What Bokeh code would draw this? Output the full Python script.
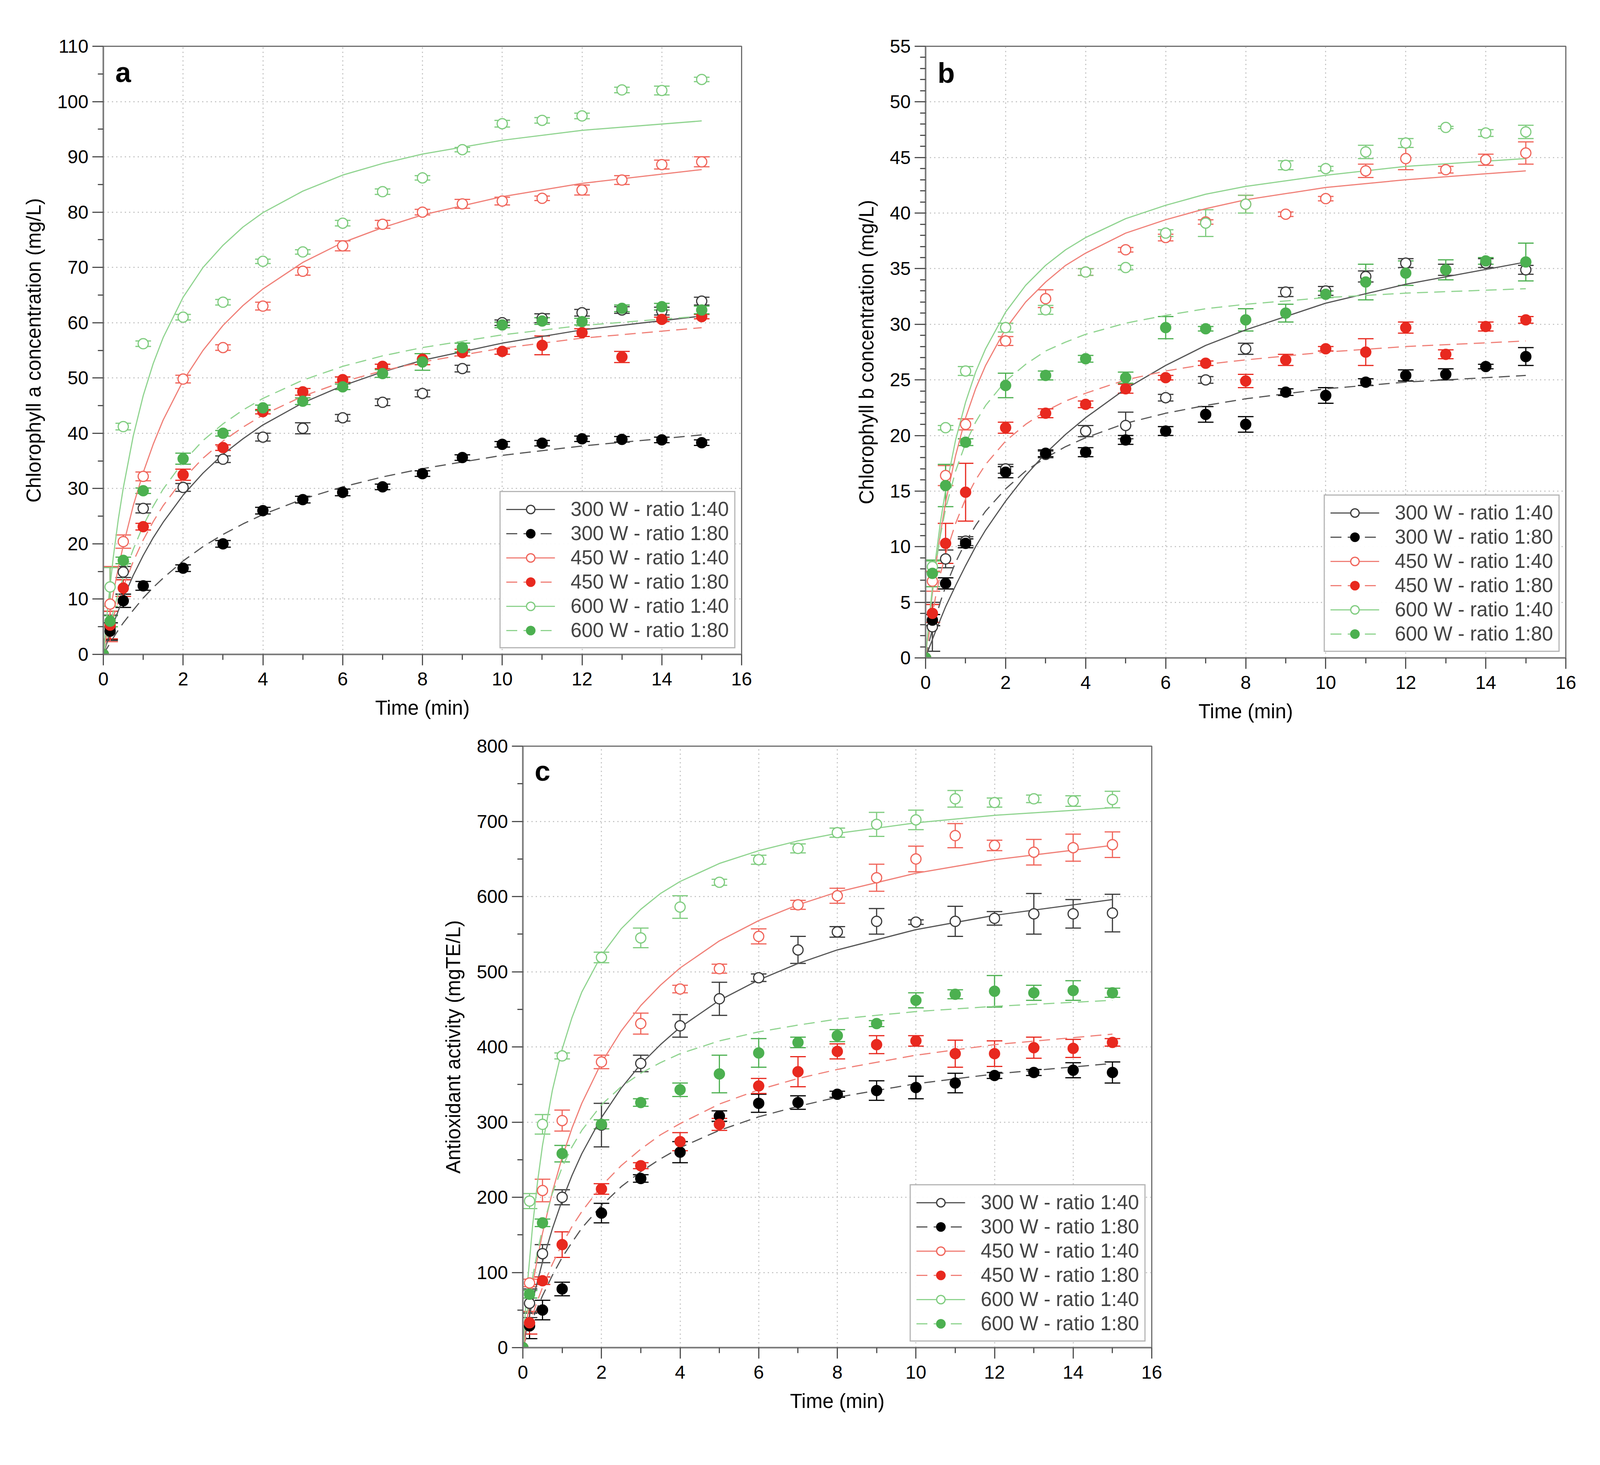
from bokeh.plotting import figure
from bokeh.models import (ColumnDataSource, Whisker, TeeHead, Legend, LegendItem,
                          Label, SingleIntervalTicker, Range1d, Spacer)
from bokeh.layouts import column, row
from bokeh.embed import file_html
from bokeh.resources import INLINE

# sampling times (min) of the measured points and of the fitted curves
t_pts = [0, 0.17, 0.5, 1, 2, 3, 4, 5, 6, 7, 8, 9, 10, 11, 12, 13, 14, 15]
t_fit = [0, 0.1, 0.25, 0.375, 0.5, 0.75, 1, 1.25, 1.5, 2, 2.5, 3, 3.5, 4, 5, 6, 7, 8, 10, 12, 15]

series_labels = ["300 W - ratio 1:40", "300 W - ratio 1:80",
                 "450 W - ratio 1:40", "450 W - ratio 1:80",
                 "600 W - ratio 1:40", "600 W - ratio 1:80"]

# ---- panel a : chlorophyll a (mg/L)
chla_300_40 = [0, 4.8, 14.9, 26.4, 30.2, 35.3, 39.3, 40.9, 42.8, 45.6, 47.2, 51.7, 60.0, 60.8, 61.8, 62.3, 62.1, 63.9]
chla_300_40_err = [0, 2.3, 1.0, 0.8, 0.7, 0.6, 0.7, 1.0, 0.6, 0.6, 0.6, 0.6, 0.5, 0.8, 0.6, 0.6, 0.7, 0.7]
chla_300_80 = [0, 4.2, 9.7, 12.4, 15.6, 20.0, 26.0, 28.0, 29.3, 30.3, 32.7, 35.6, 38.0, 38.2, 39.0, 38.9, 38.8, 38.3]
chla_300_80_err = [0, 1.5, 1.2, 0.8, 0.6, 0.6, 0.6, 0.6, 0.6, 0.5, 0.5, 0.5, 0.5, 0.5, 0.5, 0.5, 0.5, 0.5]
chla_450_40 = [0, 9.1, 20.4, 32.2, 49.8, 55.5, 63.0, 69.3, 73.9, 77.8, 80.0, 81.5, 82.0, 82.5, 84.0, 85.8, 88.6, 89.1]
chla_450_40_err = [0, 6.8, 1.2, 0.8, 0.7, 0.5, 0.7, 0.7, 0.9, 0.7, 0.5, 0.8, 0.7, 0.4, 0.9, 0.8, 0.8, 0.9]
chla_450_80 = [0, 5.3, 12.0, 23.1, 32.5, 37.4, 43.9, 47.5, 49.7, 52.1, 53.4, 54.6, 54.8, 55.9, 58.2, 53.8, 60.6, 61.1]
chla_450_80_err = [0, 2.5, 1.5, 0.6, 1.0, 0.5, 0.4, 0.6, 0.5, 0.4, 1.0, 0.6, 0.5, 1.7, 0.7, 1.0, 0.4, 0.4]
chla_600_40 = [0, 12.2, 41.2, 56.2, 61.0, 63.7, 71.1, 72.8, 78.0, 83.7, 86.2, 91.3, 96.0, 96.6, 97.4, 102.1, 102.0, 104.0]
chla_600_40_err = [0, 3.5, 0.6, 0.5, 0.5, 0.5, 0.4, 0.4, 0.5, 0.5, 0.4, 0.4, 0.6, 0.5, 0.5, 0.5, 0.8, 0.4]
chla_600_80 = [0, 6.0, 17.0, 29.6, 35.4, 40.0, 44.6, 45.8, 48.4, 50.8, 52.9, 55.5, 59.6, 60.3, 60.2, 62.6, 62.9, 62.3]
chla_600_80_err = [0, 1.0, 0.6, 0.5, 1.0, 0.5, 0.5, 0.6, 0.5, 0.7, 1.5, 0.8, 0.5, 0.6, 0.6, 0.6, 0.6, 0.7]

chla_300_40_fit = [0, 2.3, 5.5, 7.9, 10.2, 14.3, 17.9, 21.1, 23.9, 28.8, 32.8, 36.2, 39.0, 41.5, 45.5, 48.6, 51.1, 53.2, 56.3, 58.7, 61.2]
chla_300_80_fit = [0, 1.2, 3.0, 4.4, 5.7, 8.0, 10.2, 12.1, 13.8, 16.9, 19.5, 21.7, 23.6, 25.3, 28.1, 30.3, 32.1, 33.6, 36.0, 37.7, 39.7]
chla_450_40_fit = [0, 4.7, 11.0, 15.6, 19.7, 26.9, 32.9, 38.0, 42.4, 49.5, 55.0, 59.5, 63.1, 66.1, 70.9, 74.5, 77.2, 79.5, 82.8, 85.2, 87.7]
chla_450_80_fit = [0, 2.8, 6.7, 9.6, 12.2, 16.8, 20.7, 24.0, 26.9, 31.7, 35.5, 38.6, 41.1, 43.3, 46.7, 49.3, 51.3, 52.9, 55.4, 57.2, 59.1]
chla_600_40_fit = [0, 7.8, 17.6, 24.4, 30.1, 39.5, 46.8, 52.6, 57.3, 64.6, 70.0, 74.0, 77.3, 79.9, 83.8, 86.7, 88.8, 90.5, 93.0, 94.8, 96.5]
chla_600_80_fit = [0, 3.3, 7.8, 11.0, 14.0, 19.0, 23.3, 26.8, 29.9, 34.8, 38.7, 41.7, 44.2, 46.3, 49.6, 52.1, 54.0, 55.5, 57.8, 59.5, 61.2]

# ---- panel b : chlorophyll b (mg/L)
chlb_300_40 = [0, 2.8, 8.9, 10.5, 17.0, 18.3, 20.4, 20.9, 23.4, 25.0, 27.8, 32.9, 33.0, 34.3, 35.5, 34.9, 35.5, 34.9]
chlb_300_40_err = [0, 2.2, 0.8, 0.4, 0.4, 0.3, 0.5, 1.2, 0.3, 0.3, 0.5, 0.4, 0.4, 0.5, 0.4, 0.5, 0.4, 0.4]
chlb_300_80 = [0, 3.4, 6.7, 10.3, 16.7, 18.4, 18.5, 19.6, 20.4, 21.9, 21.0, 23.9, 23.6, 24.8, 25.4, 25.5, 26.2, 27.1]
chlb_300_80_err = [0, 0.5, 0.5, 0.4, 0.5, 0.3, 0.4, 0.4, 0.4, 0.7, 0.7, 0.3, 0.7, 0.3, 0.5, 0.5, 0.2, 0.8]
chlb_450_40 = [0, 6.9, 16.4, 21.0, 28.5, 32.3, 34.7, 36.7, 37.8, 39.2, 40.8, 39.9, 41.3, 43.8, 44.9, 43.9, 44.8, 45.4]
chlb_450_40_err = [0, 0.9, 0.9, 0.5, 0.4, 0.8, 0.3, 0.2, 0.3, 0.2, 0.8, 0.2, 0.2, 0.6, 1.0, 0.3, 0.5, 1.0]
chlb_450_80 = [0, 4.0, 10.3, 14.9, 20.7, 22.0, 22.8, 24.2, 25.2, 26.5, 24.9, 26.8, 27.8, 27.5, 29.7, 27.3, 29.8, 30.4]
chlb_450_80_err = [0, 0.8, 1.8, 2.6, 0.5, 0.4, 0.3, 0.4, 0.2, 0.2, 0.6, 0.5, 0.2, 1.2, 0.5, 0.4, 0.4, 0.3]
chlb_600_40 = [0, 8.2, 20.7, 25.8, 29.7, 31.3, 34.7, 35.1, 38.2, 39.1, 40.8, 44.3, 44.0, 45.5, 46.3, 47.7, 47.2, 47.3]
chlb_600_40_err = [0, 0.5, 0.2, 0.4, 0.4, 0.4, 0.3, 0.2, 0.3, 1.2, 0.8, 0.4, 0.2, 0.6, 0.4, 0.1, 0.3, 0.6]
chlb_600_80 = [0, 7.6, 15.5, 19.4, 24.5, 25.4, 26.9, 25.2, 29.7, 29.6, 30.4, 31.0, 32.7, 33.8, 34.6, 34.9, 35.7, 35.6]
chlb_600_80_err = [0, 1.2, 1.9, 0.3, 1.1, 0.4, 0.3, 0.5, 1.0, 0.2, 1.0, 0.8, 0.3, 1.6, 1.1, 0.9, 0.3, 1.7]

chlb_300_40_fit = [0, 1.0, 2.4, 3.5, 4.6, 6.5, 8.3, 10.0, 11.5, 14.1, 16.4, 18.4, 20.1, 21.6, 24.2, 26.3, 28.1, 29.5, 31.9, 33.6, 35.6]
chlb_300_80_fit = [0, 1.6, 3.6, 5.1, 6.4, 8.6, 10.4, 11.9, 13.2, 15.2, 16.8, 18.0, 19.0, 19.8, 21.1, 22.0, 22.7, 23.3, 24.2, 24.8, 25.4]
chlb_450_40_fit = [0, 3.7, 8.2, 11.3, 14.0, 18.2, 21.6, 24.2, 26.3, 29.6, 32.0, 33.8, 35.3, 36.4, 38.2, 39.4, 40.4, 41.2, 42.3, 43.0, 43.8]
chlb_450_80_fit = [0, 2.5, 5.5, 7.6, 9.3, 12.1, 14.3, 16.0, 17.4, 19.5, 21.0, 22.2, 23.1, 23.8, 25.0, 25.8, 26.4, 26.8, 27.5, 28.0, 28.5]
chlb_600_40_fit = [0, 4.0, 8.9, 12.3, 15.1, 19.6, 23.0, 25.7, 27.8, 31.1, 33.5, 35.3, 36.7, 37.8, 39.5, 40.7, 41.7, 42.4, 43.4, 44.2, 44.9]
chlb_600_80_fit = [0, 3.8, 8.3, 11.1, 13.4, 16.8, 19.3, 21.2, 22.7, 24.9, 26.4, 27.6, 28.4, 29.1, 30.1, 30.8, 31.4, 31.8, 32.4, 32.8, 33.2]

# ---- panel c : antioxidant activity (mgTE/L)
aox_300_40 = [0, 59, 125, 200, 296, 378, 428, 464, 492, 529, 553, 567, 566, 567, 571, 577, 577, 578]
aox_300_40_err = [0, 19, 12, 10, 29, 11, 15, 22, 5, 18, 7, 17, 3, 20, 9, 27, 19, 25]
aox_300_80 = [0, 29, 50, 78, 179, 225, 260, 308, 325, 326, 337, 342, 346, 352, 362, 366, 369, 366]
aox_300_80_err = [0, 17, 13, 9, 13, 5, 14, 7, 12, 9, 4, 13, 15, 13, 4, 4, 10, 14]
aox_450_40 = [0, 86, 209, 302, 380, 431, 477, 504, 547, 589, 601, 625, 650, 681, 668, 659, 665, 669]
aox_450_40_err = [0, 5, 15, 14, 9, 14, 5, 6, 10, 6, 10, 18, 17, 16, 7, 17, 18, 17]
aox_450_80 = [0, 33, 89, 137, 211, 242, 274, 297, 348, 367, 394, 403, 408, 391, 391, 399, 398, 406]
aox_450_80_err = [0, 15, 5, 17, 7, 4, 12, 8, 10, 20, 10, 12, 7, 18, 17, 14, 12, 5]
aox_600_40 = [0, 195, 297, 388, 519, 545, 586, 619, 649, 664, 685, 696, 702, 730, 725, 730, 727, 729]
aox_600_40_err = [0, 10, 13, 4, 7, 13, 15, 4, 6, 6, 6, 16, 13, 11, 6, 5, 7, 11]
aox_600_80 = [0, 71, 166, 258, 297, 326, 343, 364, 392, 406, 415, 431, 462, 470, 474, 472, 475, 472]
aox_600_80_err = [0, 5, 5, 11, 6, 5, 9, 25, 19, 7, 8, 4, 10, 6, 21, 10, 13, 6]

aox_300_40_fit = [0, 26, 62, 89, 114, 158, 196, 229, 258, 306, 345, 377, 403, 426, 462, 489, 511, 529, 556, 575, 596]
aox_300_80_fit = [0, 16, 38, 54, 69, 96, 120, 140, 159, 189, 214, 234, 251, 266, 289, 307, 321, 333, 351, 364, 378]
aox_450_40_fit = [0, 36, 84, 120, 152, 207, 253, 292, 325, 379, 421, 455, 482, 505, 541, 568, 589, 606, 631, 649, 668]
aox_450_80_fit = [0, 19, 44, 63, 80, 111, 138, 161, 181, 215, 242, 264, 283, 298, 324, 343, 358, 370, 389, 403, 417]
aox_600_40_fit = [0, 75, 163, 221, 269, 342, 397, 439, 473, 522, 557, 583, 604, 620, 644, 661, 674, 684, 698, 708, 718]
aox_600_80_fit = [0, 43, 94, 129, 158, 205, 240, 267, 289, 323, 347, 365, 379, 391, 408, 420, 429, 437, 447, 454, 462]

FONT = "Liberation Sans"
DASH = "28 16"

# line colour, marker colour, marker fill, line dash (same order as series_labels)
styles = [
    ("#555555", "#3a3a3a", "white", "solid"),
    ("#555555", "#000000", "#000000", DASH),
    ("#f08078", "#f0645a", "white", "solid"),
    ("#f08078", "#e8291f", "#e8291f", DASH),
    ("#90d490", "#7fcc7f", "white", "solid"),
    ("#90d490", "#4cb050", "#4cb050", DASH),
]


def make_panel(letter, letter_y, ylabel, y_end, y_step, y_minor, means, errs, fits,
               frame_w, frame_h, left, top, right, bottom):
    p = figure(frame_width=frame_w, frame_height=frame_h,
               min_border_left=left, min_border_top=top,
               min_border_right=right, min_border_bottom=bottom,
               x_range=Range1d(0, 16), y_range=Range1d(0, y_end),
               x_axis_label="Time (min)", y_axis_label=ylabel,
               output_backend="svg", toolbar_location=None)
    p.xaxis.ticker = SingleIntervalTicker(interval=2, num_minor_ticks=2)
    p.yaxis.ticker = SingleIntervalTicker(interval=y_step, num_minor_ticks=y_minor)

    for ax in (p.xaxis[0], p.yaxis[0]):
        ax.axis_line_color = "#777777"
        ax.axis_line_width = 4
        ax.major_tick_line_color = "#505050"
        ax.major_tick_line_width = 3
        ax.major_tick_out = 28
        ax.major_tick_in = 0
        ax.minor_tick_line_color = "#505050"
        ax.minor_tick_line_width = 3
        ax.minor_tick_out = 14
        ax.minor_tick_in = 0
        ax.major_label_text_font = FONT
        ax.major_label_text_font_size = "48px"
        ax.major_label_text_color = "black"
        ax.axis_label_text_font = FONT
        ax.axis_label_text_font_size = "51px"
        ax.axis_label_text_font_style = "normal"
        ax.axis_label_text_color = "black"
    p.xaxis.major_label_standoff = 18
    p.yaxis.major_label_standoff = 10
    p.xaxis.axis_label_standoff = 26
    p.yaxis.axis_label_standoff = 28

    p.outline_line_color = "#6e6e6e"
    p.outline_line_width = 3
    p.grid.grid_line_color = "#b8b8b8"
    p.grid.grid_line_width = 2.5
    p.grid.grid_line_dash = "3 8"

    line_rs = []
    for (lc, mc, fc, dash), f in zip(styles, fits):
        line_rs.append(p.line(t_fit, f, line_color=lc, line_width=3, line_dash=dash))

    mark_rs = []
    for (lc, mc, fc, dash), m, e in zip(styles, means, errs):
        src = ColumnDataSource(dict(t=t_pts, y=m,
                                    lo=[a - b for a, b in zip(m, e)],
                                    hi=[a + b for a, b in zip(m, e)]))
        p.add_layout(Whisker(source=src, base="t", lower="lo", upper="hi",
                             line_color=mc, line_width=3,
                             upper_head=TeeHead(size=40, line_color=mc, line_width=3),
                             lower_head=TeeHead(size=40, line_color=mc, line_width=3)))
        mark_rs.append(p.scatter("t", "y", source=src, marker="circle", size=26,
                                 line_color=mc, fill_color=fc, line_width=3))

    items = [LegendItem(label=lab, renderers=[lr, mr])
             for lab, lr, mr in zip(series_labels, line_rs, mark_rs)]
    legend = Legend(items=items, location="bottom_right",
                    label_text_font=FONT, label_text_font_size="51px",
                    glyph_width=125, glyph_height=54, label_height=54,
                    label_standoff=40, spacing=3, padding=14, margin=15,
                    border_line_color="#6e6e6e", border_line_width=3)
    p.add_layout(legend)

    p.add_layout(Label(x=0.3, y=letter_y, text=letter, text_font=FONT,
                       text_font_size="72px", text_font_style="bold",
                       text_color="black"))
    return p


pa = make_panel("a", 102.5, "Chlorophyll a concentration (mg/L)", 110, 10, 2,
                [chla_300_40, chla_300_80, chla_450_40, chla_450_80, chla_600_40, chla_600_80],
                [chla_300_40_err, chla_300_80_err, chla_450_40_err, chla_450_80_err,
                 chla_600_40_err, chla_600_80_err],
                [chla_300_40_fit, chla_300_80_fit, chla_450_40_fit, chla_450_80_fit,
                 chla_600_40_fit, chla_600_80_fit],
                1634, 1557, 264, 114, 268, 192)

pb = make_panel("b", 51.2, "Chlorophyll b concentration (mg/L)", 55, 5, 5,
                [chlb_300_40, chlb_300_80, chlb_450_40, chlb_450_80, chlb_600_40, chlb_600_80],
                [chlb_300_40_err, chlb_300_80_err, chlb_450_40_err, chlb_450_80_err,
                 chlb_600_40_err, chlb_600_80_err],
                [chlb_300_40_fit, chlb_300_80_fit, chlb_450_40_fit, chlb_450_80_fit,
                 chlb_600_40_fit, chlb_600_80_fit],
                1639, 1566, 203, 118, 80, 192)

pc = make_panel("c", 746, "Antioxidant activity (mgTE/L)", 800, 100, 2,
                [aox_300_40, aox_300_80, aox_450_40, aox_450_80, aox_600_40, aox_600_80],
                [aox_300_40_err, aox_300_80_err, aox_450_40_err, aox_450_80_err,
                 aox_600_40_err, aox_600_80_err],
                [aox_300_40_fit, aox_300_80_fit, aox_450_40_fit, aox_450_80_fit,
                 aox_600_40_fit, aox_600_80_fit],
                1610, 1540, 278, 34, 100, 192)

layout = column(row(pa, pb), row(Spacer(width=1060, height=10), pc))

open("out.html", "w").write(file_html(layout, INLINE))
